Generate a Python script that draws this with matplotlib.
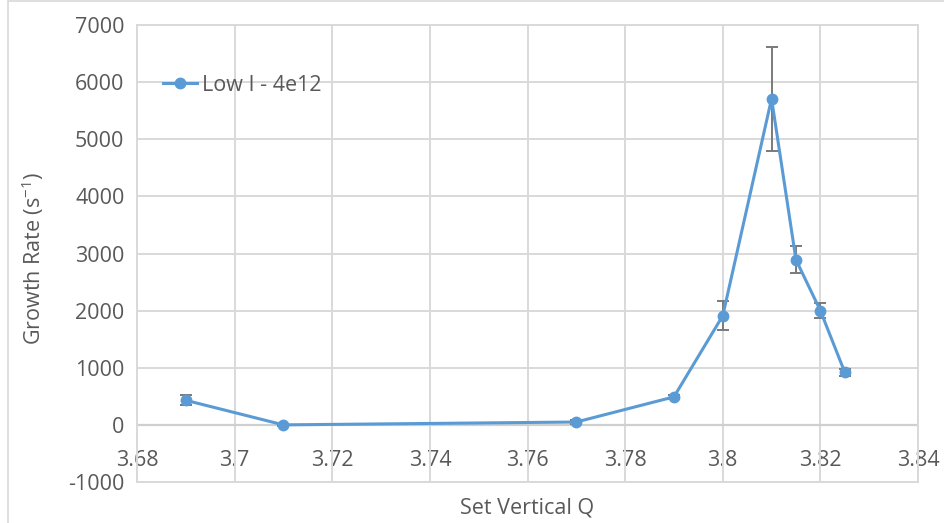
import matplotlib
matplotlib.use("Agg")
import matplotlib.pyplot as plt
from matplotlib.patches import Rectangle

# Measured growth rate versus set vertical tune
q_values = [3.69, 3.71, 3.77, 3.79, 3.80, 3.81, 3.815, 3.82, 3.825]
growth_rate = [430, 0, 50, 490, 1910, 5710, 2890, 2000, 920]
growth_err = [90, 20, 40, 30, 255, 910, 240, 125, 60]

series_label = "Low I - 4e12"
x_ticks = [3.68, 3.70, 3.72, 3.74, 3.76, 3.78, 3.80, 3.82, 3.84]
x_tick_labels = ["3.68", "3.7", "3.72", "3.74", "3.76", "3.78", "3.8", "3.82", "3.84"]
y_ticks = list(range(-1000, 7001, 1000))

TEXT = "#595959"
GRID = "#d9d9d9"
BLUE = "#5b9bd5"
FONT = "Open Sans"
FS = 15.5

plt.rcParams["font.family"] = [FONT, "DejaVu Sans"]
plt.rcParams["axes.unicode_minus"] = False

fig = plt.figure(figsize=(9.45, 5.23), dpi=100)
fig.patches.append(Rectangle((8 / 945, -0.05), 1.2, 1.05 - 1.5 / 523,
                             transform=fig.transFigure, fill=False,
                             edgecolor="#d9d9d9", linewidth=1.2))

ax = fig.add_axes([137 / 945, 41 / 523, (918 - 137) / 945, (482 - 25) / 523])
ax.set_xlim(3.68, 3.84)
ax.set_ylim(-1000, 7000)

ax.set_xticks(x_ticks)
ax.set_yticks(y_ticks)
ax.grid(True, color=GRID, linewidth=1.4)
ax.set_axisbelow(True)
for s in ax.spines.values():
    s.set_color(GRID)
    s.set_linewidth(1.4)

ax.tick_params(axis="x", length=0, labelbottom=False)
ax.tick_params(axis="y", length=0, pad=9, labelsize=FS, labelcolor=TEXT)
ax.axhline(0, color="#cfcfcf", linewidth=1.6, zorder=1)

# x tick labels sit just below the zero line
secx = ax.secondary_xaxis(1000 / 8000)
secx.set_xticks(x_ticks)
secx.set_xticklabels(x_tick_labels)
secx.tick_params(axis="x", length=0, pad=18, labelsize=FS, labelcolor=TEXT)
secx.spines["bottom"].set_visible(False)

ax.errorbar(q_values, growth_rate, yerr=growth_err, fmt="none",
            ecolor="#7a7a7a", elinewidth=1.4, capsize=4, capthick=1.4, zorder=2)
ax.plot(q_values, growth_rate, color=BLUE, linewidth=2.2, marker="o",
        markersize=7.5, label=series_label, zorder=3)

leg = ax.legend(loc="upper left", bbox_to_anchor=(0.0, 0.948), frameon=False,
                fontsize=FS, handlelength=1.6, handletextpad=0.2,
                borderaxespad=0.8)
for t in leg.get_texts():
    t.set_color(TEXT)

fig.text(527 / 945, 1 - 508 / 523, "Set Vertical Q", fontsize=FS, color=TEXT,
         ha="center", va="center")
fig.text(33 / 945, 1 - 258 / 523, "Growth Rate (s$^{\\mathregular{-1}}$)",
         fontsize=FS, color=TEXT, ha="center", va="center", rotation=90)

fig.savefig("out.png", dpi=100)
